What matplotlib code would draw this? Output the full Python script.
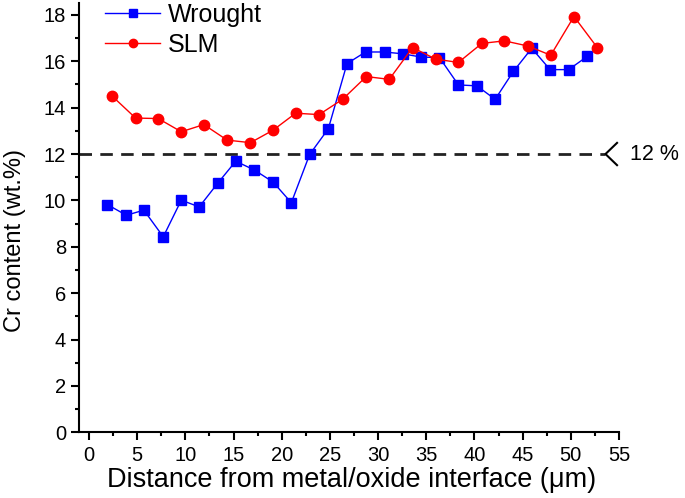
import matplotlib.pyplot as plt
from matplotlib.ticker import MultipleLocator

plt.rcParams['font.family'] = ['Liberation Sans', 'DejaVu Sans']

wrought_x = [1.91, 3.88, 5.70, 7.71, 9.58, 11.44, 13.34, 15.23, 17.17, 19.11,
             21.0, 22.9, 24.84, 26.78, 28.70, 30.67, 32.58, 34.48, 36.37, 38.34,
             40.25, 42.15, 44.04, 45.95, 47.85, 49.78, 51.71]
wrought_y = [9.82, 9.36, 9.58, 8.43, 10.01, 9.72, 10.73, 11.69, 11.31, 10.79,
             9.90, 11.98, 13.09, 15.90, 16.40, 16.40, 16.32, 16.18, 16.16, 14.98,
             14.94, 14.36, 15.56, 16.56, 15.64, 15.64, 16.21]

slm_x = [2.35, 4.84, 7.19, 9.58, 11.92, 14.34, 16.76, 19.11, 21.45, 23.88, 26.32,
         28.78, 31.16, 33.58, 36.0, 38.34, 40.77, 43.11, 45.53, 47.92, 50.33, 52.75]
slm_y = [14.52, 13.55, 13.53, 12.96, 13.27, 12.60, 12.49, 13.03, 13.76, 13.70, 14.36,
         15.34, 15.22, 16.59, 16.09, 15.95, 16.77, 16.88, 16.66, 16.26, 17.93, 16.59]

threshold = 12

fig = plt.figure(figsize=(6.85, 4.98), dpi=100)
ax = fig.add_axes([0.1158, 0.1319, 0.7878, 0.8615])

ax.plot(wrought_x, wrought_y, color='#0000FF', marker='s', markersize=6.5,
        linewidth=1, label='Wrought')
ax.plot(slm_x, slm_y, color='#FF0000', marker='o', markersize=7.5,
        linewidth=1, label='SLM')

# 12 % threshold line with chevron end
ax.plot([-1, 53.6], [threshold, threshold], color='#222222', linewidth=2,
        linestyle=(0, (4.5, 3)), zorder=1)
ax.plot([54.8, 53.6, 54.8], [threshold + 0.48, threshold, threshold - 0.48],
        color='black', linewidth=1.5, clip_on=False)
ax.text(56.1, threshold, '12 %', fontsize=15.5, va='center', ha='left')

ax.set_xlim(-1, 55)
ax.set_ylim(0, 18.5)
ax.xaxis.set_major_locator(MultipleLocator(5))
ax.xaxis.set_minor_locator(MultipleLocator(2.5))
ax.yaxis.set_major_locator(MultipleLocator(2))
ax.yaxis.set_minor_locator(MultipleLocator(1))

for s in ['top', 'right']:
    ax.spines[s].set_visible(False)
for s in ['left', 'bottom']:
    ax.spines[s].set_linewidth(1.5)

ax.tick_params(which='major', direction='out', length=6, width=1.5, labelsize=14.5)
ax.tick_params(which='minor', direction='out', length=3, width=1.5)

ax.set_xlabel('Distance from metal/oxide interface (μm)', fontsize=19.5)
ax.xaxis.set_label_coords(0.504, -0.082)
ax.set_ylabel('Cr content (wt.%)', fontsize=17)
ax.yaxis.set_label_coords(-0.098, 0.447)

ax.legend(loc='upper left', bbox_to_anchor=(105 / 685, 0.994),
          bbox_transform=fig.transFigure, frameon=False, fontsize=18,
          handlelength=2.2, handletextpad=0.3, labelspacing=0.25,
          borderpad=0, borderaxespad=0, markerscale=0.8)

fig.savefig('out.png', dpi=100)
